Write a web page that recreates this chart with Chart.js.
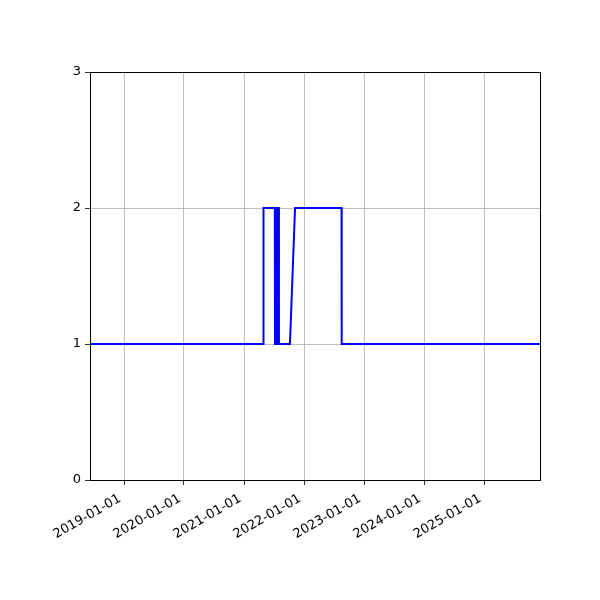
<!DOCTYPE html>
<html lang="en">
<head>
    <meta charset="UTF-8">
    <title>Step series</title>
    <script src="https://cdn.jsdelivr.net/npm/chart.js"></script>
    <style>
        html, body { margin: 0; padding: 0; background: #fff; }
        #wrap { width: 600px; height: 600px; }
    </style>
</head>
<body>
<div id="wrap"><canvas id="myChart" width="600" height="600"></canvas></div>

<script>
    // values
    const dates = ['2018-06-08', '2021-04-28', '2021-04-29', '2021-07-07', '2021-07-08',
        '2021-07-19', '2021-07-20', '2021-07-31', '2021-08-01', '2021-10-07',
        '2021-11-07', '2022-08-17', '2022-08-18', '2025-12-07'];
    const values = [1, 1, 2, 2, 1, 1, 2, 2, 1, 1, 2, 2, 1, 1];
    const xTickLabels = ['2019-01-01', '2020-01-01', '2021-01-01', '2022-01-01',
        '2023-01-01', '2024-01-01', '2025-01-01'];
    const yTickValues = [0, 1, 2, 3];

    const points = dates.map((d, i) => ({x: Date.parse(d), y: values[i]}));

    const frame = {
        id: 'frame',
        afterDraw(chart) {
            const a = chart.chartArea;
            const c = chart.ctx;
            c.save();
            c.strokeStyle = '#000';
            c.lineWidth = 1;
            c.strokeRect(Math.round(a.left) + 0.5, Math.round(a.top) + 0.5,
                Math.round(a.right - a.left), Math.round(a.bottom - a.top));
            c.restore();
        }
    };

    const ctx = document.getElementById('myChart').getContext('2d');
    new Chart(ctx, {
        type: 'line',
        data: {
            datasets: [{
                data: points,
                borderColor: '#0000ff',
                borderWidth: 2,
                pointRadius: 0,
                fill: false,
                tension: 0
            }]
        },
        options: {
            responsive: false,
            animation: false,
            layout: {padding: {left: 50, top: 72, right: 60, bottom: 20}},
            plugins: {legend: {display: false}, tooltip: {enabled: false}},
            scales: {
                x: {
                    type: 'linear',
                    min: points[0].x,
                    max: points[points.length - 1].x,
                    afterBuildTicks: (scale) => {
                        scale.ticks = xTickLabels.map(l => ({value: Date.parse(l)}));
                    },
                    afterFit: (scale) => { scale.height = 100; },
                    grid: {color: '#b0b0b0', lineWidth: 0.8, tickColor: '#000', tickLength: 5},
                    border: {display: false},
                    ticks: {
                        color: '#000',
                        font: {family: 'DejaVu Sans', size: 13},
                        minRotation: 30,
                        maxRotation: 30,
                        padding: 6,
                        labelOffset: -4,
                        callback: (v) => new Date(v).toISOString().slice(0, 10)
                    }
                },
                y: {
                    min: 0,
                    max: 3,
                    afterBuildTicks: (scale) => {
                        scale.ticks = yTickValues.map(v => ({value: v}));
                    },
                    afterFit: (scale) => { scale.width = 40; },
                    grid: {color: '#b0b0b0', lineWidth: 0.8, tickColor: '#000', tickLength: 5},
                    border: {display: false},
                    ticks: {
                        color: '#000',
                        font: {family: 'DejaVu Sans', size: 13},
                        padding: 4
                    }
                }
            }
        },
        plugins: [frame]
    });
</script>
</body>
</html>
